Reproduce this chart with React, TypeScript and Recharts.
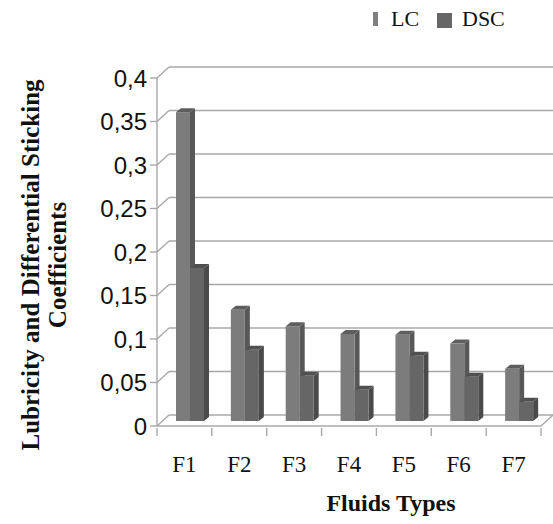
import React from 'react';
import { BarChart, Bar, XAxis, YAxis, CartesianGrid } from 'recharts';

const categories = ['F1', 'F2', 'F3', 'F4', 'F5', 'F6', 'F7'];
const lcValues = [0.355, 0.128, 0.109, 0.1, 0.099, 0.089, 0.06];
const dscValues = [0.176, 0.082, 0.052, 0.036, 0.075, 0.051, 0.022];
const yTicks = [0, 0.05, 0.1, 0.15, 0.2, 0.25, 0.3, 0.35, 0.4];

const data = categories.map((c, i) => ({ name: c, LC: lcValues[i], DSC: dscValues[i] }));

const W = 553;
const H = 524;
const M = { top: 78, right: 12, bottom: 8, left: 0 };
const Y_AXIS_W = 157;
const X_AXIS_H = 90;
const PLOT_W = W - M.left - M.right - Y_AXIS_W;
const HALF_BAND = PLOT_W / categories.length / 2;

// depth offsets of the 3D look
const DX = 12;
const DY = -11;
const BAR_SHIFT_X = 6;
const BAR_SHIFT_Y = -5;
const BDX = 5;
const BDY = -4;

const GRID = '#a8a8a8';

const make3DBar = (front: string, side: string, top: string) => (props: any) => {
  const { x, y, width, height } = props;
  if (width == null || height == null) return null;
  const fx = x + BAR_SHIFT_X;
  const fy = y + BAR_SHIFT_Y;
  const w = width;
  const h = height;
  return (
    <g>
      <polygon
        points={`${fx + w},${fy} ${fx + w + BDX},${fy + BDY} ${fx + w + BDX},${fy + h + BDY} ${fx + w},${fy + h}`}
        fill={side}
      />
      <polygon
        points={`${fx},${fy} ${fx + BDX},${fy + BDY} ${fx + w + BDX},${fy + BDY} ${fx + w},${fy}`}
        fill={top}
      />
      <rect x={fx} y={fy} width={w} height={h} fill={front} />
    </g>
  );
};

const LCShape = make3DBar('#7c7c7c', '#585858', '#5e5e5e');
const DSCShape = make3DBar('#666666', '#4a4a4a', '#505050');

const gridLine = (props: any) => {
  const { x1, y1, x2, index } = props;
  const isFloor = Math.abs(y1 - (H - M.bottom - X_AXIS_H)) < 0.5;
  return (
    <g key={`g-${index}-${y1}`}>
      <line x1={x1 + DX} y1={y1 + DY} x2={x2 + DX} y2={y1 + DY} stroke={GRID} strokeWidth={1.6} />
      <line x1={x1} y1={y1} x2={x1 + DX} y2={y1 + DY} stroke={GRID} strokeWidth={1.4} />
      {isFloor ? (
        <line x1={x2} y1={y1} x2={x2 + DX} y2={y1 + DY} stroke={GRID} strokeWidth={1.4} />
      ) : null}
    </g>
  );
};

const XTick = (props: any) => {
  const { x, y, payload, index } = props;
  const ax = y - 8;
  return (
    <g>
      {index === 0 ? (
        <line x1={x - HALF_BAND} y1={ax} x2={x - HALF_BAND} y2={ax + 8} stroke={GRID} strokeWidth={1.4} />
      ) : null}
      <line x1={x + HALF_BAND} y1={ax} x2={x + HALF_BAND} y2={ax + 8} stroke={GRID} strokeWidth={1.4} />
      <text
        x={x}
        y={ax + 44}
        textAnchor="middle"
        fontFamily="'Liberation Serif', 'Times New Roman', serif"
        fontSize={23}
        fill="#111"
      >
        {payload.value}
      </text>
    </g>
  );
};

const fmt = (v: number) => String(v).replace('.', ',');

export default function App() {
  return (
    <div style={{ position: 'absolute', left: 0, top: 0, width: W, height: H, background: '#fff' }}>
      <BarChart
        width={W}
        height={H}
        data={data}
        margin={M}
        barCategoryGap={13}
        barGap={0}
      >
        <CartesianGrid vertical={false} horizontal={gridLine} />
        <XAxis
          dataKey="name"
          height={X_AXIS_H}
          axisLine={{ stroke: GRID, strokeWidth: 1.4 }}
          tickLine={false}
          tick={<XTick />}
          interval={0}
          tickSize={8}
        />
        <YAxis
          width={Y_AXIS_W}
          domain={[0, 0.4]}
          ticks={yTicks}
          tickFormatter={fmt}
          axisLine={{ stroke: GRID, strokeWidth: 1.4 }}
          tickLine={{ stroke: GRID, strokeWidth: 1.4 }}
          tickSize={7}
          tickMargin={3}
          tick={{ fontFamily: "'Liberation Sans', Arial, sans-serif", fontSize: 24, fill: '#111' }}
        />
        <Bar dataKey="LC" shape={LCShape} isAnimationActive={false} />
        <Bar dataKey="DSC" shape={DSCShape} isAnimationActive={false} />
      </BarChart>
      <svg
        width={W}
        height={H}
        style={{ position: 'absolute', left: 0, top: 0, pointerEvents: 'none' }}
      >
        <g fontFamily="'Liberation Serif', 'Times New Roman', serif" fill="#111">
          <rect x={373} y={12} width={5} height={14} fill="#808080" />
          <text x={391} y={26} fontSize={22}>LC</text>
          <rect x={437} y={13} width={15} height={15} fill="#666666" />
          <text x={462} y={26} fontSize={22}>DSC</text>
          <text
            transform="translate(39,265) rotate(-90)"
            textAnchor="middle"
            fontSize={25}
            fontWeight="bold"
          >
            Lubricity and Differential Sticking
          </text>
          <text
            transform="translate(66,265) rotate(-90)"
            textAnchor="middle"
            fontSize={25}
            fontWeight="bold"
          >
            Coefficients
          </text>
          <text x={391} y={511} textAnchor="middle" fontSize={24} fontWeight="bold">
            Fluids Types
          </text>
        </g>
      </svg>
    </div>
  );
}
